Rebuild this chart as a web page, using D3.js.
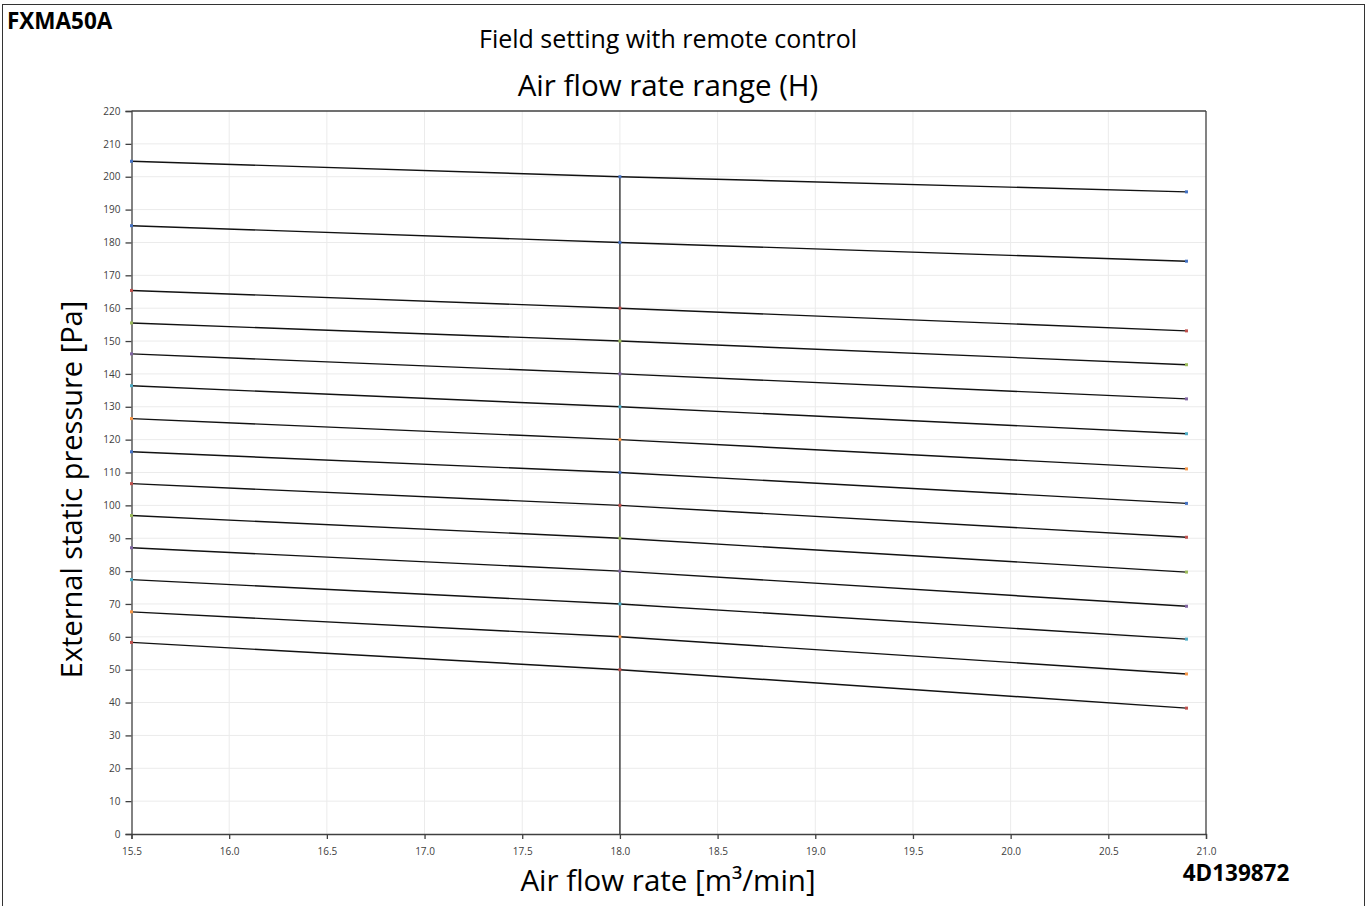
<!DOCTYPE html>
<html>
<head>
<meta charset="utf-8">
<script src="https://cdn.jsdelivr.net/npm/d3@7"></script>
<style>
  body { margin: 0; background: #fff; }
  text { font-family: "Open Sans", "Noto Sans", sans-serif; }
</style>
</head>
<body>
<svg id="chart" width="1370" height="906"></svg>
<script>
// air flow points (m3/min)
const flowPoints = [15.5, 18.0, 20.9];
// static pressure for each curve at the three flow points
const pressLeft  = [204.7, 185.1, 165.4, 155.5, 146.1, 136.4, 126.4, 116.3, 106.6, 96.9, 87.1, 77.4, 67.6, 58.3];
const pressMid   = [200, 180, 160, 150, 140, 130, 120, 110, 100, 90, 80, 70, 60, 50];
const pressRight = [195.4, 174.3, 153.1, 142.8, 132.4, 121.8, 111.1, 100.6, 90.3, 79.7, 69.3, 59.3, 48.7, 38.3];
const xTicks = d3.range(15.5, 21.01, 0.5);
const yTicks = d3.range(0, 221, 10);
// excel-ish marker colours at the ends
const dotColors = ["#4472c4", "#4472c4", "#c0504d", "#9bbb59", "#8064a2", "#4bacc6", "#f79646", "#4472c4", "#c0504d", "#9bbb59", "#8064a2", "#4bacc6", "#f79646", "#c0504d"];

const svg = d3.select("#chart");
const margin = {top: 111, right: 164, bottom: 72, left: 131.5};
const width = 1370 - margin.left - margin.right,
      height = 906 - margin.top - margin.bottom;

// outer frame
svg.append("rect")
  .attr("x", 2.5).attr("y", 4.5)
  .attr("width", 1362).attr("height", 910)
  .attr("fill", "none").attr("stroke", "#333").attr("stroke-width", 1);

const x = d3.scaleLinear().domain([15.5, 21.0]).range([0, width]);
const y = d3.scaleLinear().domain([0, 220]).range([height, 0]);

const g = svg.append("g")
  .attr("transform", "translate(" + margin.left + "," + margin.top + ")");

// grid
g.append("g").selectAll("line").data(xTicks.slice(1, -1)).join("line")
  .attr("x1", d => x(d)).attr("x2", d => x(d))
  .attr("y1", 0).attr("y2", height)
  .attr("stroke", "#ebebeb").attr("stroke-width", 1);
g.append("g").selectAll("line").data(yTicks.slice(1, -1)).join("line")
  .attr("x1", 0).attr("x2", width)
  .attr("y1", d => y(d)).attr("y2", d => y(d))
  .attr("stroke", "#ebebeb").attr("stroke-width", 1);

// axes
const xAxis = g.append("g")
  .attr("transform", "translate(0," + height + ")")
  .call(d3.axisBottom(x).tickValues(xTicks).tickFormat(d3.format(".1f")).tickSizeOuter(0).tickSize(5));
const yAxis = g.append("g")
  .call(d3.axisLeft(y).tickValues(yTicks).tickSizeOuter(0).tickSize(6));
[xAxis, yAxis].forEach(a => {
  a.selectAll("path, line").attr("stroke", "#404040").attr("stroke-width", 1.3);
  a.selectAll("text").attr("fill", "#404040").style("font-size", "10px")
    .style("font-family", "'Open Sans', sans-serif");
});
xAxis.selectAll("text").attr("dy", "1.25em");
yAxis.selectAll("text").attr("dx", "-2px");

// plot box top/right
g.append("line").attr("x1", 0).attr("x2", width).attr("y1", 0).attr("y2", 0)
  .attr("stroke", "#404040").attr("stroke-width", 1.3);
g.append("line").attr("x1", width).attr("x2", width).attr("y1", 0).attr("y2", height)
  .attr("stroke", "#404040").attr("stroke-width", 1.3);

// vertical line at rated flow
g.append("line")
  .attr("x1", x(flowPoints[1])).attr("x2", x(flowPoints[1]))
  .attr("y1", y(0)).attr("y2", y(pressMid[0]))
  .attr("stroke", "#444").attr("stroke-width", 1.5);

// curves
const series = pressMid.map((m, i) => [
  [flowPoints[0], pressLeft[i]], [flowPoints[1], m], [flowPoints[2], pressRight[i]]
]);
const line = d3.line().x(d => x(d[0])).y(d => y(d[1]));

g.append("g").selectAll("path").data(series).join("path")
  .attr("d", line)
  .attr("fill", "none")
  .attr("stroke", "#111")
  .attr("stroke-width", 1.4);

series.forEach((s, i) => {
  g.append("g").selectAll("rect").data(s).join("rect")
    .attr("x", d => x(d[0]) - 1.5).attr("y", d => y(d[1]) - 1.5)
    .attr("width", 3).attr("height", 3)
    .attr("fill", dotColors[i]);
});

// texts
svg.append("text").attr("x", 7).attr("y", 29)
  .style("font-size", "22.5px").style("font-weight", "bold").attr("fill", "#000")
  .text("FXMA50A");
svg.append("text").attr("x", 668).attr("y", 48).attr("text-anchor", "middle")
  .style("font-size", "25px").attr("fill", "#000")
  .text("Field setting with remote control");
svg.append("text").attr("x", 668).attr("y", 96).attr("text-anchor", "middle")
  .style("font-size", "29.5px").attr("fill", "#000")
  .text("Air flow rate range (H)");
svg.append("text")
  .attr("transform", "translate(82," + (margin.top + height / 2 + 17) + ") rotate(-90)")
  .attr("text-anchor", "middle")
  .style("font-size", "29px").attr("fill", "#000")
  .text("External static pressure [Pa]");
svg.append("text").attr("x", 668).attr("y", 891).attr("text-anchor", "middle")
  .style("font-size", "29.5px").attr("fill", "#000")
  .text("Air flow rate [m³/min]");
svg.append("text").attr("x", 1236).attr("y", 881).attr("text-anchor", "middle")
  .style("font-size", "22.5px").style("font-weight", "bold").attr("fill", "#000")
  .text("4D139872");
</script>
</body>
</html>
